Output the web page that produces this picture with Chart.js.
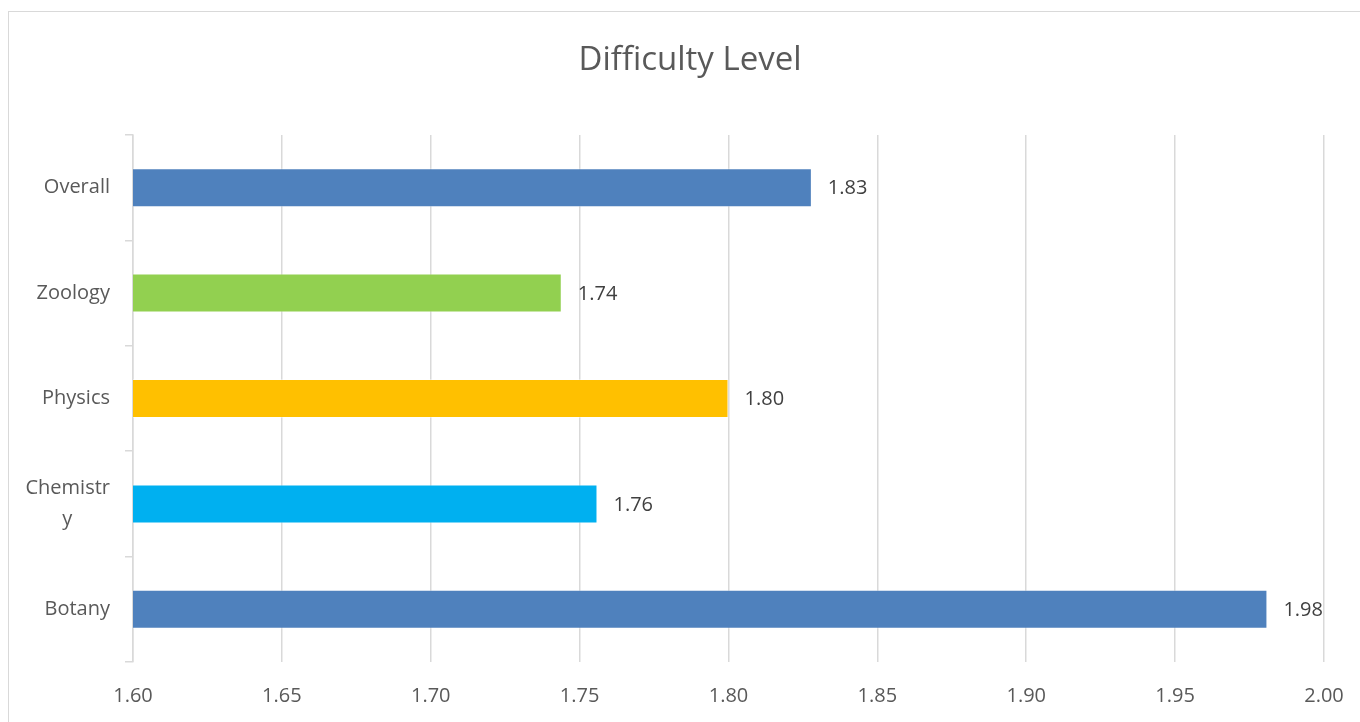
<!DOCTYPE html>
<html>
<head>
<meta charset="utf-8">
<title>Difficulty Level</title>
<script src="https://cdn.jsdelivr.net/npm/chart.js@4.4.0/dist/chart.umd.min.js"></script>
<style>
  html, body { margin: 0; padding: 0; background: #fff; overflow: hidden; }
  #frame {
    position: absolute; left: 8px; top: 11px;
    width: 1400px; height: 800px;
    border: 1.5px solid #d9d9d9;
  }
  #grafico { position: absolute; left: 0; top: 0; }
</style>
</head>
<body>
<div id="frame"></div>
<canvas id="grafico" width="1360" height="722"></canvas>
<script>
// Dados do gráfico
const categorias = ["Overall", "Zoology", "Physics", "Chemistry", "Botany"];
const valores = [1.828, 1.744, 1.800, 1.756, 1.981];
const cores = ["#4F81BD", "#92D050", "#FFC000", "#00B0F0", "#4F81BD"];
const eixoMin = 1.6;
const eixoMax = 2.0;
const eixoPasso = 0.05;

const corTexto = "#595959";
const corGrade = "#d9d9d9";

// Rótulos de valor no fim de cada barra
const rotulosValor = {
  id: "rotulosValor",
  afterDatasetsDraw(chart) {
    const ctx = chart.ctx;
    const meta = chart.getDatasetMeta(0);
    ctx.save();
    ctx.font = "20px 'Open Sans'";
    ctx.fillStyle = "#404040";
    ctx.textAlign = "left";
    ctx.textBaseline = "middle";
    meta.data.forEach((barra, i) => {
      ctx.fillText(valores[i].toFixed(2), barra.x + 16, barra.y + 1);
    });
    ctx.restore();
  },
};

new Chart(document.getElementById("grafico").getContext("2d"), {
  type: "bar",
  data: {
    labels: categorias,
    datasets: [
      {
        label: "Difficulty Level",
        data: valores,
        backgroundColor: cores,
        borderColor: "rgba(255,255,255,0.4)",
        borderWidth: 1,
        categoryPercentage: 1,
        barPercentage: 0.37,
      },
    ],
  },
  options: {
    indexAxis: "y",
    responsive: false,
    animation: false,
    layout: { padding: { left: 20, right: 0, top: 0, bottom: 0 } },
    plugins: {
      legend: { display: false },
      tooltip: { enabled: false },
      title: {
        display: true,
        text: "Difficulty Level",
        color: corTexto,
        font: { family: "'Open Sans'", size: 33, weight: "normal" },
        padding: { top: 41, bottom: 54.4 },
      },
    },
    scales: {
      x: {
        min: eixoMin,
        max: eixoMax,
        afterFit: (scale) => {
          scale.height = 60;
          scale.paddingRight = 36;
        },
        afterBuildTicks: (scale) => {
          const ticks = [];
          for (let i = 0; i <= Math.round((eixoMax - eixoMin) / eixoPasso); i++) {
            ticks.push({ value: +(eixoMin + i * eixoPasso).toFixed(2) });
          }
          scale.ticks = ticks;
        },
        grid: { color: corGrade, lineWidth: 1.5, drawTicks: false },
        border: { display: false },
        ticks: {
          color: corTexto,
          font: { family: "'Open Sans'", size: 20 },
          padding: 22,
          maxRotation: 0,
          callback: (v) => Number(v).toFixed(2),
        },
      },
      y: {
        afterFit: (scale) => { scale.width = 113; },
        grid: { drawOnChartArea: false, color: corGrade, lineWidth: 1.5, tickLength: 8 },
        border: { display: true, color: corGrade, width: 1.5 },
        ticks: {
          color: corTexto,
          font: { family: "'Open Sans'", size: 20, lineHeight: 1.55 },
          padding: 15,
          callback: function (v) {
            const nome = this.getLabelForValue(v);
            if (nome === "Chemistry") return ["Chemistr", "y\u2007\u2007\u2007\u2009"];
            return nome;
          },
        },
      },
    },
  },
  plugins: [rotulosValor],
});
</script>
</body>
</html>
